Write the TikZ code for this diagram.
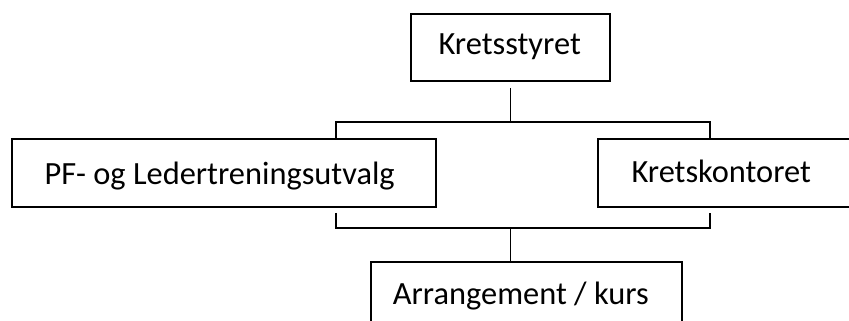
\documentclass[tikz,border=0pt]{standalone}
\usepackage{fontspec}
\setmainfont{Carlito}
\begin{document}
\begin{tikzpicture}[x=1pt,y=-1pt,
  box/.style={draw=black,line width=1.8pt,rectangle,inner sep=0pt},
  lbl/.style={anchor=base west,inner sep=0pt,font=\fontsize{32.4}{39}\selectfont},
  conn/.style={draw=black,line width=1.8pt,line join=miter}]
\useasboundingbox[fill=white] (0,0) rectangle (849,321);
% boxes
\node[box,minimum width=199pt,minimum height=67pt] (ks) at (510.5,47.5) {};
\node[box,minimum width=424pt,minimum height=68pt] (pf) at (224,173) {};
\node[box,minimum width=256pt,minimum height=68pt] (kk) at (726,173) {};
\node[box,minimum width=311pt,minimum height=68pt] (ar) at (526.5,296) {};
% labels
\node[lbl] (kst) at (438.4,55) {Kretsstyret};
\node[lbl] (pft) at (44.3,184) {PF- og Ledertreningsutvalg};
\node[lbl] (kkt) at (631.3,182) {Kretskontoret};
\node[lbl] (art) at (392.7,304) {Arrangement / kurs};
% junctions
\coordinate (jl) at (336,122);
\coordinate (jr) at (710,122);
\coordinate (bl) at (336,228);
\coordinate (br) at (710,228);
% connectors
\draw[conn] ([yshift=-6pt]ks.south) -- (ks.south |- jl);
\draw[conn] (jl |- pf.north) -- (jl) -- (jr) -- (jr |- kk.north);
\draw[conn] ([yshift=-5pt]bl |- pf.south) -- (bl) -- (br) -- ([yshift=-5pt]br |- kk.south);
\draw[conn] (bl -| ks.south) -- (ar.north -| ks.south);
\end{tikzpicture}
\end{document}
